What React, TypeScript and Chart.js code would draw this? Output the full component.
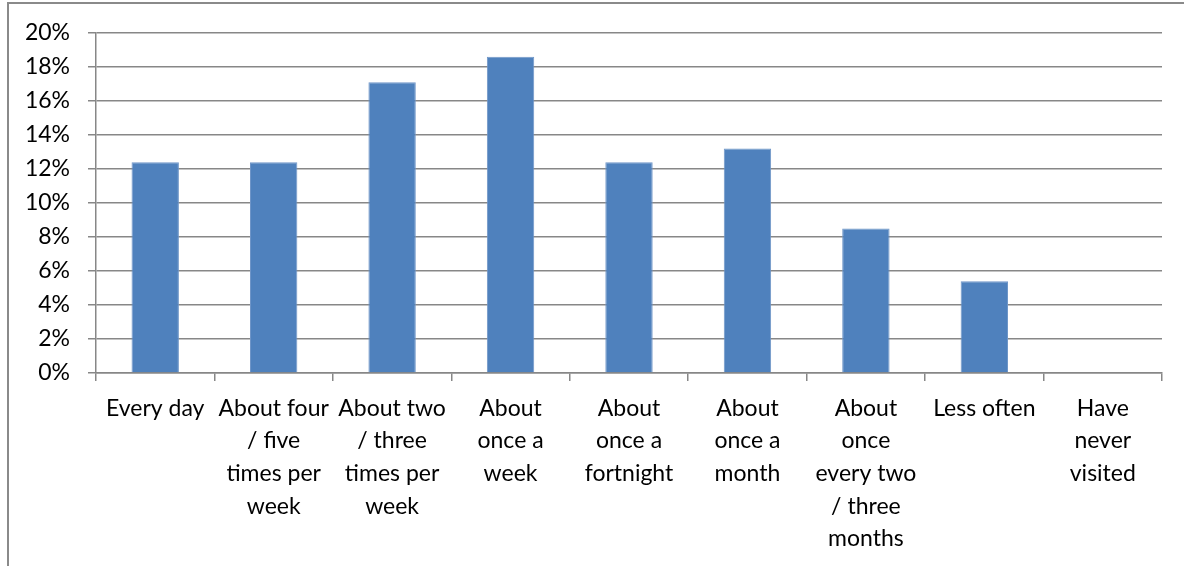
import React, { useEffect, useRef } from "react";
import { Chart, registerables } from "chart.js";

Chart.register(...registerables);

const categories: (string | string[])[] = [
  "Every day",
  ["About four", "/ five", "times per", "week"],
  ["About two", "/ three", "times per", "week"],
  ["About", "once a", "week"],
  ["About", "once a", "fortnight"],
  ["About", "once a", "month"],
  ["About", "once", "every two", "/ three", "months"],
  "Less often",
  ["Have", "never", "visited"],
];

const shares: number[] = [12.4, 12.4, 17.1, 18.6, 12.4, 13.2, 8.5, 5.4, 0];

const yMin = 0;
const yMax = 20;
const yStep = 2;

const FONT = "Lato, 'Noto Sans', sans-serif";
const GRID = "#878787";

// White background plus the outer chart frame (its right and bottom edges run off the page)
const framePlugin = {
  id: "frame",
  beforeDraw(chart: Chart) {
    const { ctx, width, height } = chart;
    ctx.save();
    ctx.fillStyle = "#ffffff";
    ctx.fillRect(0, 0, width, height);
    ctx.strokeStyle = "#8a8a8a";
    ctx.lineWidth = 2;
    ctx.strokeRect(8, 3, width + 40, height + 40);
    ctx.restore();
  },
};

export default function App() {
  const canvasRef = useRef<HTMLCanvasElement | null>(null);

  useEffect(() => {
    if (!canvasRef.current) return;
    const chart = new Chart(canvasRef.current, {
      type: "bar",
      data: {
        labels: categories,
        datasets: [
          {
            data: shares,
            backgroundColor: "#4F81BD",
            borderColor: "#7096c8",
            borderWidth: 1,
            categoryPercentage: 1,
            barPercentage: 0.4,
          },
        ],
      },
      options: {
        responsive: false,
        animation: false,
        events: [],
        layout: { padding: { left: 0, right: 22, top: 33, bottom: 0 } },
        plugins: {
          legend: { display: false },
          tooltip: { enabled: false },
        },
        scales: {
          x: {
            offset: true,
            grid: {
              offset: true,
              drawOnChartArea: false,
              drawTicks: true,
              tickLength: 8,
              color: GRID,
              lineWidth: 1.5,
            },
            border: { display: true, color: GRID, width: 1.5 },
            ticks: {
              color: "#000000",
              maxRotation: 0,
              minRotation: 0,
              autoSkip: false,
              padding: 11,
              font: { family: FONT, size: 23, lineHeight: 1.42 },
            },
            afterFit(scale: any) {
              scale.height = 193;
            },
          },
          y: {
            min: yMin,
            max: yMax,
            ticks: {
              stepSize: yStep,
              color: "#000000",
              padding: 18,
              font: { family: FONT, size: 23 },
              callback: (v: any) => `${v}%`,
            },
            grid: {
              color: GRID,
              lineWidth: 1.5,
              drawTicks: true,
              tickLength: 8,
            },
            border: { display: true, color: GRID, width: 1.5 },
            afterFit(scale: any) {
              scale.width = 96;
            },
          },
        },
      },
      plugins: [framePlugin],
    });
    return () => chart.destroy();
  }, []);

  return (
    <div style={{ position: "absolute", left: 0, top: 0, width: 1184, height: 566 }}>
      <canvas ref={canvasRef} width={1184} height={566} style={{ display: "block" }} />
    </div>
  );
}
